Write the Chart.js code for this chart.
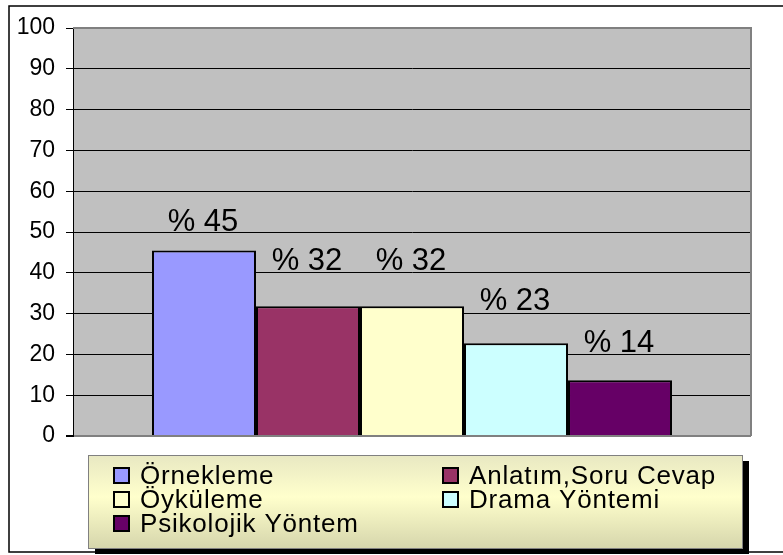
<!DOCTYPE html>
<html>
<head>
<meta charset="utf-8">
<script src="https://cdn.jsdelivr.net/npm/chart.js"></script>
<style>
  html, body { margin: 0; padding: 0; background: #fff; }
  #wrap { width: 783px; height: 555px; }
</style>
</head>
<body>
<div id="wrap"><canvas id="myChart" width="783" height="555"></canvas></div>
<script>
// chart data
const categories = [''];
const seriesNames = ['Örnekleme', 'Anlatım,Soru Cevap', 'Öyküleme', 'Drama Yöntemi', 'Psikolojik Yöntem'];
const seriesValues = [45.45, 31.82, 31.82, 22.73, 13.64];
const seriesColors = ['#9999FF', '#993366', '#FFFFCC', '#CCFFFF', '#660066'];
const yTicks = [0, 10, 20, 30, 40, 50, 60, 70, 80, 90, 100];

const FONT = '"Liberation Sans", Arial, sans-serif';

// gray plot area, frame and borders
const backdrop = {
    id: 'backdrop',
    beforeDraw(chart) {
        const { ctx, chartArea: a } = chart;
        ctx.save();
        ctx.fillStyle = '#fff';
        ctx.fillRect(0, 0, chart.width, chart.height);
        ctx.fillStyle = '#C0C0C0';
        ctx.fillRect(a.left, a.top, a.right - a.left, a.bottom - a.top);
        ctx.restore();
    },
    afterDraw(chart) {
        const { ctx, chartArea: a } = chart;
        ctx.save();
        // plot border top / right
        ctx.strokeStyle = '#808080';
        ctx.lineWidth = 2;
        ctx.beginPath();
        ctx.moveTo(a.left, a.top);
        ctx.lineTo(a.right, a.top);
        ctx.lineTo(a.right, a.bottom);
        ctx.stroke();
        // outer frame (runs off the right edge)
        ctx.strokeStyle = '#000';
        ctx.lineWidth = 1.5;
        ctx.strokeRect(9, 6, 800, 546);
        ctx.restore();
    }
};

// "% 45" labels above bars
const valueLabels = {
    id: 'valueLabels',
    afterDatasetsDraw(chart, args, opts) {
        const { ctx } = chart;
        ctx.save();
        ctx.font = '31px ' + FONT;
        ctx.fillStyle = '#000';
        ctx.textAlign = 'center';
        ctx.textBaseline = 'alphabetic';
        chart.data.datasets.forEach((ds, i) => {
            const bar = chart.getDatasetMeta(i).data[0];
            const off = opts.offsets[i];
            ctx.fillText('% ' + Math.round(ds.data[0]), bar.x - 1, bar.y - off);
        });
        ctx.restore();
    }
};

// boxed legend with shadow, two columns
const boxLegend = {
    id: 'boxLegend',
    afterDraw(chart) {
        const { ctx } = chart;
        const x = 88, y = 455, w = 654, h = 93;
        ctx.save();
        ctx.fillStyle = '#000';
        ctx.fillRect(x + 7, y + 6, w, h);
        const g = ctx.createLinearGradient(0, y, 0, y + h);
        g.addColorStop(0, '#E8E8C2');
        g.addColorStop(0.45, '#FFFFCC');
        g.addColorStop(1, '#D6D6AC');
        ctx.fillStyle = g;
        ctx.fillRect(x, y, w, h);
        ctx.strokeStyle = '#808080';
        ctx.lineWidth = 1;
        ctx.strokeRect(x + 0.5, y + 0.5, w, h);

        const cols = [114, 443];
        const rows = [475.5, 499.5, 523.5];
        ctx.font = '26px ' + FONT;
        ctx.letterSpacing = '0.8px';
        ctx.textBaseline = 'middle';
        chart.data.datasets.forEach((ds, i) => {
            const bx = cols[i % 2], cy = rows[Math.floor(i / 2)];
            ctx.fillStyle = ds.backgroundColor;
            ctx.fillRect(bx, cy - 7.5, 15, 15);
            ctx.strokeStyle = '#000';
            ctx.lineWidth = 2;
            ctx.strokeRect(bx, cy - 7.5, 15, 15);
            ctx.fillStyle = '#000';
            ctx.fillText(ds.label, bx + 26, cy + 1);
        });
        ctx.restore();
    }
};

const datasets = seriesNames.map((name, i) => ({
    label: name,
    data: [seriesValues[i]],
    backgroundColor: seriesColors[i],
    borderColor: '#000',
    borderWidth: 2,
    borderSkipped: 'bottom',
    categoryPercentage: 0.767,
    barPercentage: 1
}));

new Chart(document.getElementById('myChart'), {
    type: 'bar',
    data: { labels: categories, datasets: datasets },
    plugins: [backdrop, valueLabels, boxLegend],
    options: {
        responsive: false,
        animation: false,
        layout: { padding: { left: 0, top: 28, right: 32, bottom: 119 } },
        plugins: {
            legend: { display: false },
            tooltip: { enabled: false },
            valueLabels: { offsets: [20, 36, 36, 33, 28] }
        },
        scales: {
            x: { display: false },
            y: {
                min: 0,
                max: 100,
                afterFit(scale) { scale.width = 73; },
                afterBuildTicks(scale) { scale.ticks = yTicks.map(v => ({ value: v })); },
                border: { color: '#000', width: 1 },
                grid: {
                    color: c => (c.tick.value === 0 || c.tick.value === 100) ? '#808080' : '#000',
                    lineWidth: c => c.tick.value === 0 ? 2 : 1,
                    tickColor: '#000',
                    tickLength: 7
                },
                ticks: {
                    color: '#000',
                    padding: 11,
                    font: { family: FONT, size: 23 }
                }
            }
        }
    }
});
</script>
</body>
</html>
